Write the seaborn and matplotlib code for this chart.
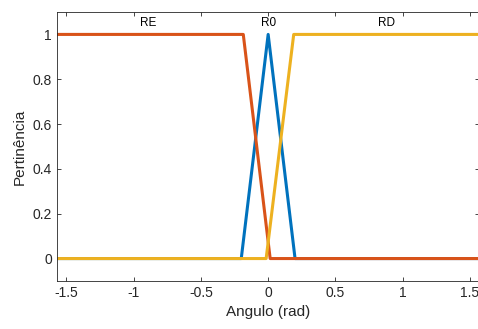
import numpy as np
import pandas as pd
import seaborn as sns
import matplotlib.pyplot as plt

# membership functions (breakpoints)
re_x = [-1.5708, -0.185, 0.015, 1.5708]
re_y = [1, 1, 0, 0]
r0_x = [-1.5708, -0.2, 0.0, 0.2, 1.5708]
r0_y = [0, 0, 1, 0, 0]
rd_x = [-1.5708, -0.015, 0.19, 1.5708]
rd_y = [0, 0, 1, 1]

labels = ['RE', 'R0', 'RD']
label_x = [-0.89, 0.0, 0.877]

df = pd.concat([
    pd.DataFrame({'x': r0_x, 'y': r0_y, 'set': 'R0'}),
    pd.DataFrame({'x': re_x, 'y': re_y, 'set': 'RE'}),
    pd.DataFrame({'x': rd_x, 'y': rd_y, 'set': 'RD'}),
])

sns.set_style("ticks")
plt.rcParams['font.family'] = ['Liberation Sans', 'DejaVu Sans']

fig = plt.figure(figsize=(4.78, 3.29), dpi=100)
ax = fig.add_axes([0.119, 0.146, 0.884, 0.8175])

pal = {'R0': '#0072BD', 'RE': '#D95319', 'RD': '#EDB120'}
sns.lineplot(data=df, x='x', y='y', hue='set', hue_order=['R0', 'RE', 'RD'],
             palette=pal, linewidth=2.2, sort=False, estimator=None, legend=False, ax=ax)

for lab, lx in zip(labels, label_x):
    ax.text(lx, 1.05, lab, ha='center', va='center', fontsize=8.5, color='black')

ax.set_xlim(-1.5708, 1.5708)
ax.set_ylim(-0.1, 1.1)
ax.set_xticks([-1.5, -1, -0.5, 0, 0.5, 1, 1.5])
ax.set_xticklabels(['-1.5', '-1', '-0.5', '0', '0.5', '1', '1.5'])
ax.set_yticks([0, 0.2, 0.4, 0.6, 0.8, 1])
ax.set_yticklabels(['0', '0.2', '0.4', '0.6', '0.8', '1'])
ax.tick_params(direction='in', length=3, width=0.6, colors='#262626',
               labelsize=10, top=True, right=True)
for s in ax.spines.values():
    s.set_color('#262626')
    s.set_linewidth(0.6)
ax.set_xlabel('Angulo (rad)', fontsize=11, color='#262626')
ax.set_ylabel('Pertinência', fontsize=11, color='#262626')

fig.savefig('out.png', dpi=100)
